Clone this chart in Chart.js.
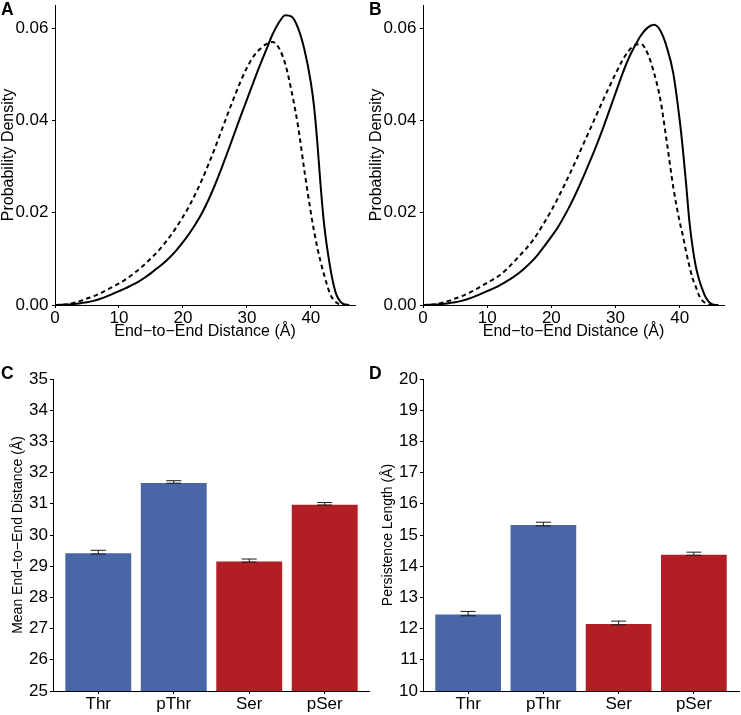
<!DOCTYPE html>
<html lang="en">
<head>
<meta charset="UTF-8">
<title>End-to-End Distance and Persistence Length</title>
<script src="https://cdn.jsdelivr.net/npm/chart.js"></script>
<style>
  body { margin: 0; background: #fff; font-family: "Liberation Sans", Arial, sans-serif; }
  #wrap { position: relative; width: 741px; height: 715px; overflow: hidden; }
  canvas { position: absolute; }
  .tag { position: absolute; font-weight: bold; font-size: 17.5px; line-height: 1; color: #000; }
</style>
</head>
<body>
<div id="wrap">
  <canvas id="chartA" width="370" height="340" style="left:0;top:0"></canvas>
  <canvas id="chartB" width="373" height="340" style="left:368px;top:0"></canvas>
  <canvas id="chartC" width="370" height="375" style="left:0;top:340px"></canvas>
  <canvas id="chartD" width="371" height="375" style="left:370px;top:340px"></canvas>
  <div class="tag" style="left:1px;top:1px">A</div>
  <div class="tag" style="left:369px;top:1px">B</div>
  <div class="tag" style="left:1px;top:365px">C</div>
  <div class="tag" style="left:369px;top:365px">D</div>
</div>

<script>
// density curves (A, B): distance in Å, density
const distance = [0, 1, 2, 3, 4, 5, 6, 7, 8, 9, 10, 11, 12, 13, 14, 15, 16, 17, 18, 19, 20,
  21, 22, 23, 24, 25, 26, 27, 28, 29, 30, 31, 32, 33, 34, 35, 36, 37, 38, 39, 40,
  40.5, 41, 41.5, 42, 42.5, 43, 43.5, 44, 45, 46];

const solidA = [0, 0.00003, 0.0001, 0.0002, 0.0004, 0.0006, 0.0009, 0.0013, 0.0018, 0.0024, 0.0030,
  0.0036, 0.0043, 0.0050, 0.0059, 0.0069, 0.0080, 0.0091, 0.0104, 0.0119, 0.0136,
  0.0155, 0.0176, 0.0200, 0.0228, 0.0260, 0.0295, 0.0332, 0.0370, 0.0408, 0.0445,
  0.0482, 0.0518, 0.0552, 0.0586, 0.0612, 0.0628, 0.0625, 0.0600, 0.0553, 0.0482,
  0.0430, 0.0354, 0.0263, 0.0184, 0.0128, 0.0083, 0.0047, 0.0022, 0.0003, 0];
const dashedA = [0, 0.00005, 0.0002, 0.0005, 0.0009, 0.0014, 0.0019, 0.0025, 0.0032, 0.0039, 0.0047,
  0.0055, 0.0065, 0.0076, 0.0088, 0.0101, 0.0115, 0.0131, 0.0149, 0.0169, 0.0191,
  0.0215, 0.0242, 0.0272, 0.0305, 0.0340, 0.0377, 0.0414, 0.0450, 0.0484, 0.0514,
  0.0538, 0.0554, 0.0565, 0.0570, 0.0557, 0.0522, 0.0462, 0.0387, 0.0290, 0.0200,
  0.0160, 0.0125, 0.0095, 0.0069, 0.0045, 0.0024, 0.0012, 0.0005, 0, 0];

const solidB = [0, 0.00003, 0.0001, 0.0002, 0.0004, 0.0006, 0.0009, 0.0013, 0.0018, 0.0024, 0.0030,
  0.0036, 0.0043, 0.0051, 0.0060, 0.0070, 0.0082, 0.0095, 0.0111, 0.0129, 0.0148,
  0.0168, 0.0192, 0.0218, 0.0247, 0.0278, 0.0311, 0.0345, 0.0381, 0.0420, 0.0459,
  0.0498, 0.0533, 0.0561, 0.0585, 0.0601, 0.0607, 0.0594, 0.0558, 0.0502, 0.0400,
  0.0336, 0.0262, 0.0182, 0.0126, 0.0084, 0.0056, 0.0035, 0.0018, 0.0002, 0];
const dashedB = [0, 0.00005, 0.0002, 0.0005, 0.0009, 0.0014, 0.0019, 0.0025, 0.0032, 0.0040, 0.0048,
  0.0056, 0.0065, 0.0077, 0.0091, 0.0106, 0.0121, 0.0138, 0.0158, 0.0181, 0.0205,
  0.0231, 0.0259, 0.0288, 0.0318, 0.0349, 0.0380, 0.0411, 0.0442, 0.0472, 0.0501,
  0.0528, 0.0550, 0.0563, 0.0565, 0.0545, 0.0503, 0.0444, 0.0352, 0.0255, 0.0180,
  0.0150, 0.0115, 0.0085, 0.0058, 0.0040, 0.0021, 0.0010, 0.0004, 0, 0];

// bar panels (C, D)
const categories = ['Thr', 'pThr', 'Ser', 'pSer'];
const meanDistance = [29.45, 31.70, 29.18, 31.00];
const meanDistanceErr = [0.06, 0.04, 0.05, 0.04];
const persistence = [12.48, 15.35, 12.18, 14.40];
const persistenceErr = [0.07, 0.06, 0.06, 0.05];
const barColors = ['#4967a7', '#4967a7', '#b11e24', '#b11e24'];

Chart.defaults.font.family = '"Liberation Sans", Arial, sans-serif';
Chart.defaults.color = '#000';

const axisGrid = { display: true, drawOnChartArea: false, drawTicks: true, tickLength: 3, color: '#000', lineWidth: 1 };
const axisBorder = { display: true, color: '#000', width: 1 };

// fixed axis boxes so the plot areas land where the figure has them
const fixY = w => s => { s.width = w; s.paddingTop = 0; s.paddingBottom = 0; };
const fixX = h => s => { s.height = h; s.paddingLeft = 0; s.paddingRight = 0; };

const errorBars = {
  id: 'errorBars',
  afterDatasetsDraw(chart) {
    const ds = chart.data.datasets[0];
    const meta = chart.getDatasetMeta(0);
    const y = chart.scales.y;
    const ctx = chart.ctx;
    ctx.save();
    ctx.strokeStyle = '#1a1a1a';
    ctx.lineWidth = 1;
    meta.data.forEach((bar, i) => {
      const v = ds.data[i].y;
      const top = y.getPixelForValue(v + ds.errors[i]);
      const bot = y.getPixelForValue(v - ds.errors[i]);
      ctx.beginPath();
      ctx.moveTo(bar.x, top); ctx.lineTo(bar.x, bot);
      ctx.moveTo(bar.x - 7.5, top); ctx.lineTo(bar.x + 7.5, top);
      ctx.moveTo(bar.x - 7.5, bot); ctx.lineTo(bar.x + 7.5, bot);
      ctx.stroke();
    });
    ctx.restore();
  }
};

function densityChart(id, solid, dashed, yWidth, rightPad) {
  const pts = arr => distance.map((x, i) => ({ x: x, y: arr[i] }));
  return new Chart(document.getElementById(id), {
    type: 'line',
    data: {
      datasets: [
        { data: pts(solid), borderColor: '#000', borderWidth: 2, pointRadius: 0, cubicInterpolationMode: 'monotone' },
        { data: pts(dashed), borderColor: '#000', borderWidth: 2, borderDash: [4.5, 3.5], pointRadius: 0, cubicInterpolationMode: 'monotone' }
      ]
    },
    options: {
      responsive: false,
      animation: false,
      devicePixelRatio: 1,
      layout: { padding: { top: 5, right: rightPad, bottom: 0, left: 0 } },
      plugins: { legend: { display: false }, tooltip: { enabled: false } },
      scales: {
        x: {
          type: 'linear', min: 0, max: 46.9,
          afterFit: fixX(35),
          ticks: { stepSize: 10, includeBounds: false, padding: 0, font: { size: 17 }, color: '#000', maxRotation: 0 },
          grid: axisGrid, border: axisBorder,
          title: { display: true, text: 'End−to−End Distance (Å)', font: { size: 16, lineHeight: 1 }, padding: { top: 0, bottom: 0 }, color: '#000' }
        },
        y: {
          min: 0, max: 0.065,
          afterFit: fixY(yWidth),
          ticks: { stepSize: 0.02, includeBounds: false, padding: 3.5, font: { size: 17 }, color: '#000', callback: v => v.toFixed(2) },
          grid: axisGrid, border: axisBorder,
          title: { display: true, text: 'Probability Density', font: { size: 16, lineHeight: 1.1 }, padding: { top: 0, bottom: 0 }, color: '#000' }
        }
      }
    }
  });
}

function barChart(id, values, errors, yMin, yMax, yTitle, rightPad) {
  return new Chart(document.getElementById(id), {
    type: 'bar',
    data: {
      datasets: [{
        data: categories.map((c, i) => ({ x: i + 1, y: values[i] })),
        errors: errors,
        backgroundColor: barColors,
        borderColor: 'rgba(255,255,255,0.3)',
        borderWidth: 1,
        barPercentage: 0.9,
        categoryPercentage: 1
      }]
    },
    options: {
      responsive: false,
      animation: false,
      devicePixelRatio: 1,
      layout: { padding: { top: 39, right: rightPad, bottom: 0, left: 0 } },
      plugins: { legend: { display: false }, tooltip: { enabled: false } },
      scales: {
        x: {
          type: 'linear', min: 0.4, max: 4.6, offset: false,
          afterFit: fixX(24),
          afterBuildTicks: s => { s.ticks = categories.map((c, i) => ({ value: i + 1 })); },
          ticks: { padding: 0, font: { size: 17 }, color: '#000', maxRotation: 0, callback: v => categories[v - 1] },
          grid: Object.assign({}, axisGrid, { offset: false }), border: axisBorder
        },
        y: {
          min: yMin, max: yMax,
          afterFit: fixY(53),
          ticks: { stepSize: 1, padding: 2, font: { size: 17 }, color: '#000' },
          grid: axisGrid, border: axisBorder,
          title: { display: true, text: yTitle, font: { size: 14, lineHeight: 1.2 }, padding: { top: 10, bottom: 0 }, color: '#000' }
        }
      }
    },
    plugins: [errorBars]
  });
}

densityChart('chartA', solidA, dashedA, 55, 15);
densityChart('chartB', solidB, dashedB, 55, 17);
barChart('chartC', meanDistance, meanDistanceErr, 25, 35, 'Mean End−to−End Distance (Å)', 0);
barChart('chartD', persistence, persistenceErr, 10, 20, 'Persistence Length (Å)', 2);
</script>
</body>
</html>
